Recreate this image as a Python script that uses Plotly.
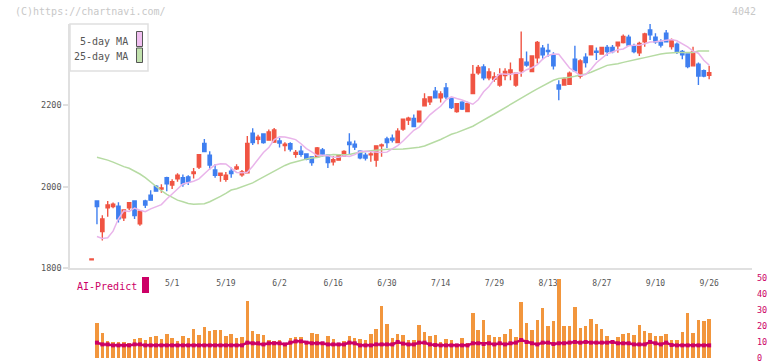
import plotly.graph_objects as go

# ---------------- data (index 0 = 4/9, 1 = 4/10 ... 115 = 9/26) ----------------
opens = [1821,
 1965, 1890, 1948, 1951, 1952, 1924, 1948, 1965, 1909, 1965,
 1979, 2001, 1994, 2022, 2004, 2019, 2022, 2024, 2032, 2048,
 2106, 2077, 2041, 2028, 2018, 2038, 2044, 2029, 2034, 2131,
 2116, 2129, 2114, 2109, 2112, 2101, 2105, 2079, 2087, 2080,
 2073, 2073, 2090, 2077, 2061, 2065, 2075, 2109, 2104, 2087,
 2077, 2078, 2065, 2100, 2117, 2119, 2108, 2141, 2163, 2167,
 2159, 2198, 2208, 2234, 2218, 2242, 2216, 2184, 2207, 2184,
 2228, 2279, 2293, 2267, 2263, 2249, 2272, 2279, 2249, 2284,
 2305, 2282, 2316, 2339, 2334, 2323, 2249, 2249, 2251, 2312,
 2271, 2317, 2323, 2332, 2325, 2341, 2341, 2345, 2353, 2366,
 2345, 2328, 2355, 2384, 2366, 2354, 2376, 2343, 2349, 2331,
 2325, 2296, 2300, 2284, 2273]
highs = [1823,
 1966, 1930, 1965, 1961, 1962, 1944, 1962, 1965, 1940, 1968,
 1991, 2004, 2006, 2024, 2018, 2033, 2030, 2028, 2046, 2078,
 2117, 2087, 2055, 2034, 2036, 2047, 2055, 2041, 2124, 2143,
 2127, 2131, 2140, 2144, 2119, 2109, 2109, 2090, 2100, 2082,
 2073, 2097, 2095, 2078, 2075, 2079, 2089, 2131, 2113, 2089,
 2083, 2085, 2101, 2106, 2122, 2128, 2143, 2167, 2171, 2177,
 2186, 2229, 2220, 2244, 2234, 2254, 2218, 2204, 2209, 2208,
 2298, 2298, 2300, 2290, 2280, 2290, 2290, 2304, 2279, 2380,
 2331, 2321, 2357, 2347, 2350, 2329, 2261, 2268, 2282, 2345,
 2312, 2327, 2345, 2341, 2342, 2347, 2347, 2355, 2373, 2372,
 2350, 2355, 2377, 2399, 2376, 2361, 2384, 2363, 2353, 2335,
 2327, 2343, 2304, 2287, 2296]
lows = [1821,
 1908, 1868, 1926, 1947, 1912, 1916, 1943, 1921, 1904, 1948,
 1967, 1988, 1985, 1989, 1994, 2012, 2000, 2004, 2020, 2043,
 2085, 2042, 2022, 2012, 2012, 2022, 2041, 2024, 2034, 2102,
 2104, 2105, 2114, 2108, 2096, 2087, 2086, 2071, 2073, 2065,
 2051, 2072, 2073, 2046, 2052, 2064, 2075, 2078, 2090, 2067,
 2064, 2061, 2049, 2073, 2095, 2108, 2107, 2137, 2151, 2147,
 2157, 2198, 2200, 2218, 2206, 2215, 2190, 2181, 2188, 2184,
 2227, 2274, 2261, 2261, 2257, 2245, 2261, 2261, 2245, 2269,
 2294, 2281, 2302, 2312, 2318, 2287, 2212, 2249, 2251, 2284,
 2265, 2292, 2323, 2310, 2324, 2321, 2327, 2328, 2351, 2347,
 2327, 2320, 2343, 2359, 2350, 2341, 2355, 2336, 2325, 2312,
 2290, 2295, 2249, 2268, 2263]
closes = [1823,
 1951, 1921, 1955, 1957, 1921, 1943, 1961, 1929, 1940, 1955,
 1967, 1989, 1997, 2007, 2012, 2028, 2007, 2012, 2036, 2078,
 2086, 2053, 2028, 2033, 2028, 2032, 2048, 2036, 2106, 2108,
 2121, 2108, 2134, 2139, 2107, 2104, 2092, 2084, 2079, 2067,
 2059, 2095, 2080, 2059, 2066, 2078, 2086, 2103, 2097, 2071,
 2070, 2080, 2100, 2102, 2108, 2114, 2136, 2165, 2168, 2147,
 2185, 2215, 2220, 2218, 2227, 2220, 2194, 2203, 2190, 2203,
 2275, 2292, 2267, 2281, 2269, 2274, 2282, 2286, 2278, 2313,
 2298, 2320, 2353, 2323, 2331, 2296, 2239, 2264, 2278, 2284,
 2308, 2304, 2345, 2329, 2341, 2331, 2331, 2354, 2368, 2347,
 2331, 2351, 2374, 2372, 2355, 2347, 2355, 2358, 2330, 2323,
 2294, 2330, 2271, 2271, 2279]

# moving-average values before enough closes exist
ma5_head = [1878, 1873, 1875, 1891]            # indices 1..4
ma25_head = [2072, 2069, 2065, 2060, 2054, 2049, 2045, 2039, 2031, 2022,
             2011, 2000, 1990, 1981, 1973, 1967, 1963, 1959, 1957, 1957,
             1958, 1963, 1969, 1976]            # indices 1..24

volume = [None,
 21.9, 15.6, 10.6, 9.8, 9.8, 9.8, 9.2, 11.9, 12.3, 11.0,
 12.9, 13.5, 11.7, 14.8, 12.3, 10.6, 13.5, 12.3, 17.9, 14.2,
 19.2, 16.7, 17.3, 17.3, 13.5, 14.8, 12.3, 12.9, 35.4, 16.7,
 14.8, 14.2, 11.0, 10.6, 11.0, 9.2, 12.3, 12.9, 12.9, 9.2,
 15.4, 14.8, 7.9, 13.5, 11.7, 7.9, 10.4, 13.5, 12.3, 11.7,
 11.0, 14.8, 17.9, 32.3, 21.0, 12.3, 14.8, 14.2, 11.0, 11.0,
 20.4, 16.0, 13.5, 14.2, 9.8, 11.7, 11.0, 7.9, 12.3, 9.2,
 27.9, 17.3, 23.5, 14.2, 12.9, 12.9, 14.8, 17.9, 12.9, 34.8,
 21.7, 17.3, 23.5, 31.0, 19.8, 22.9, 49.6, 19.8, 19.8, 31.7,
 18.5, 19.8, 24.2, 21.0, 17.9, 13.5, 11.0, 12.9, 14.8, 15.4,
 14.2, 20.4, 16.7, 15.4, 13.5, 13.5, 14.8, 11.0, 11.0, 16.0,
 27.9, 15.4, 23.5, 22.9, 24.2]

ai_predict = [None,
 9.6, 8.5, 8.5, 7.9, 7.9, 7.9, 7.9, 8.5, 8.5, 7.9,
 7.9, 7.9, 7.9, 7.9, 7.9, 7.9, 7.9, 7.9, 7.9, 7.9,
 7.9, 7.9, 7.9, 7.9, 7.9, 7.9, 7.9, 7.9, 9.6, 9.2,
 9.2, 8.5, 9.2, 9.2, 9.2, 8.5, 9.6, 10.4, 10.4, 9.6,
 9.2, 9.2, 9.2, 8.5, 8.5, 8.5, 8.5, 9.6, 9.2, 7.9,
 7.9, 7.9, 8.5, 8.5, 8.5, 8.5, 10.0, 9.0, 8.5, 8.5,
 9.6, 9.6, 8.5, 8.1, 7.9, 7.9, 7.9, 7.9, 7.9, 7.9,
 9.2, 9.2, 8.75, 9.2, 8.5, 9.2, 8.5, 9.2, 9.6, 11.25,
 10.0, 9.2, 8.5, 9.6, 9.6, 8.75, 9.2, 9.2, 9.6, 10.0,
 9.6, 10.0, 9.6, 9.6, 9.6, 9.6, 10.0, 9.2, 9.2, 9.2,
 8.5, 8.5, 8.5, 10.0, 9.2, 8.5, 9.6, 8.1, 7.9, 7.9,
 7.9, 7.9, 7.9, 7.9, 7.9]

tick_labels = ["5/1", "5/19", "6/2", "6/16", "6/30", "7/14", "7/29",
               "8/13", "8/27", "9/10", "9/26"]
tick_index = [15, 25, 35, 45, 55, 65, 75, 85, 95, 105, 115]
price_ticks = [1800, 2000, 2200]
vol_ticks = [0, 10, 20, 30, 40, 50]

# ---------------- derived series ----------------
idx = list(range(len(closes)))


def lagged_ma(values, n, head):
    out = [None] + list(head)
    for i in range(len(head) + 1, len(values)):
        window = values[i - n:i]
        out.append(sum(window) / n)
    return out


ma5 = lagged_ma(closes, 5, ma5_head)
ma25 = lagged_ma(closes, 25, ma25_head)

RED = "#f05443"
BLUE = "#3f7ff0"
PINK = "#e9b4ea"
GREEN = "#b6dba3"
ORANGE = "#f2963d"
MAGENTA = "#cc0066"
AXIS = "#e0e0e0"
MONO = "DejaVu Sans Mono"

fig = go.Figure()
fig.add_trace(go.Scatter(x=idx, y=ma25, mode="lines", line=dict(color=GREEN, width=1.5),
                         xaxis="x", yaxis="y", showlegend=False, hoverinfo="skip"))
fig.add_trace(go.Scatter(x=idx, y=ma5, mode="lines", line=dict(color=PINK, width=1.5),
                         xaxis="x", yaxis="y", showlegend=False, hoverinfo="skip"))
fig.add_trace(go.Candlestick(
    x=idx, open=opens, high=highs, low=lows, close=closes,
    increasing=dict(line=dict(color=RED, width=1.4), fillcolor=RED),
    decreasing=dict(line=dict(color=BLUE, width=1.4), fillcolor=BLUE),
    whiskerwidth=0, xaxis="x", yaxis="y", showlegend=False))
fig.add_trace(go.Bar(x=idx, y=volume, marker=dict(color=ORANGE, line=dict(width=0)),
                     width=0.65, xaxis="x2", yaxis="y2", showlegend=False))
fig.add_trace(go.Scatter(x=idx, y=ai_predict, mode="lines+markers",
                         line=dict(color=MAGENTA, width=2.5),
                         marker=dict(color=MAGENTA, size=4, symbol="square"),
                         xaxis="x2", yaxis="y2", showlegend=False))

W, H = 772, 361
L, R, T, B = 70, 20, 24, 3
PH = H - T - B
PW = W - L - R


def px(xp):
    return (xp - L) / PW


def py(yp):
    return (H - B - yp) / PH


xr = [-4.02, 122.98]
main_bottom = py(268.3)
vol_top = py(278)

fig.update_layout(
    width=W, height=H, margin=dict(l=L, r=R, t=T, b=B, autoexpand=False),
    paper_bgcolor="white", plot_bgcolor="white",
    font=dict(family=MONO, color="#555555", size=9),
    boxgap=0.12,
    xaxis=dict(domain=[0, 1], range=xr, anchor="y", tickmode="array",
               tickvals=tick_index, ticktext=tick_labels, ticks="",
               showline=True, linecolor=AXIS, linewidth=1.5, showgrid=False,
               zeroline=False, rangeslider=dict(visible=False), automargin=False,
               tickfont=dict(family=MONO, size=8, color="#555555"),
               ticklabelstandoff=6),
    yaxis=dict(domain=[main_bottom, 1], range=[1800, 2398.5], anchor="x",
               tickmode="array", tickvals=price_ticks, ticks="outside",
               ticklen=5, tickcolor=AXIS, tickwidth=1.5, showline=True,
               linecolor=AXIS, linewidth=1.5, showgrid=False, zeroline=False,
               automargin=False,
               tickfont=dict(family=MONO, size=8.5, color="#555555")),
    yaxis3=dict(overlaying="y", anchor="x", range=[1800, 2398.5], tickmode="array",
                tickvals=price_ticks, ticks="inside", ticklen=3, tickcolor=AXIS,
                tickwidth=1.5, showticklabels=False, showline=False,
                showgrid=False, zeroline=False, automargin=False),
    xaxis3=dict(overlaying="x", anchor="y", range=[0, 11], tickmode="linear",
                tick0=0, dtick=1, ticks="outside", ticklen=5, tickcolor=AXIS,
                tickwidth=1.5, showticklabels=False, showline=False,
                showgrid=False, zeroline=False, automargin=False),
    xaxis4=dict(overlaying="x", anchor="y", range=[0, 11], tickmode="linear",
                tick0=0, dtick=1, ticks="inside", ticklen=3, tickcolor=AXIS,
                tickwidth=1.5, showticklabels=False, showline=False,
                showgrid=False, zeroline=False, automargin=False),
    xaxis2=dict(domain=[0, 1], range=xr, anchor="y2", visible=False, automargin=False),
    yaxis2=dict(domain=[0, vol_top], range=[0, 50], anchor="x2", side="right",
                tickmode="array", tickvals=vol_ticks, ticks="", showline=False,
                showgrid=False, zeroline=False, ticklabelstandoff=4, automargin=False,
                ticklabeloverflow="allow",
                tickfont=dict(family=MONO, size=8.5, color=MAGENTA)),
    bargap=0,
)

shapes = [
    dict(type="rect", xref="paper", yref="paper", x0=px(70), x1=px(148),
         y0=py(71), y1=py(24), line=dict(color=AXIS, width=1.5), fillcolor="white",
         layer="above"),
    dict(type="rect", xref="paper", yref="paper", x0=px(136.5), x1=px(142.5),
         y0=py(46.5), y1=py(31.5), line=dict(color="#555555", width=1), fillcolor="#f0bff0",
         layer="above"),
    dict(type="rect", xref="paper", yref="paper", x0=px(136.5), x1=px(142.5),
         y0=py(62.5), y1=py(48), line=dict(color="#555555", width=1), fillcolor="#c2e2ae",
         layer="above"),
    dict(type="rect", xref="paper", yref="paper", x0=px(142), x1=px(149),
         y0=py(293), y1=py(277), line=dict(width=0), fillcolor=MAGENTA),
]
fig.update_layout(shapes=shapes)

ann = [
    dict(text="(C)https://chartnavi.com/", x=px(13), y=py(12), xanchor="left",
         font=dict(family=MONO, size=10, color="#c8c8c8")),
    dict(text="4042", x=px(758), y=py(12), xanchor="right",
         font=dict(family=MONO, size=10, color="#c8c8c8")),
    dict(text="5-day MA", x=px(130), y=py(41.5), xanchor="right",
         font=dict(family=MONO, size=10, color="#555555")),
    dict(text="25-day MA", x=px(130), y=py(56.5), xanchor="right",
         font=dict(family=MONO, size=10, color="#555555")),
    dict(text="AI-Predict", x=px(75), y=py(286), xanchor="left",
         font=dict(family=MONO, size=10, color=MAGENTA)),
]
for a in ann:
    a.update(xref="paper", yref="paper", yanchor="middle", showarrow=False)
fig.update_layout(annotations=ann)

fig.write_html(
    "out.html",
    config={"displayModeBar": False},
    post_script="document.body.style.margin='0';document.body.style.overflow='hidden';",
)
